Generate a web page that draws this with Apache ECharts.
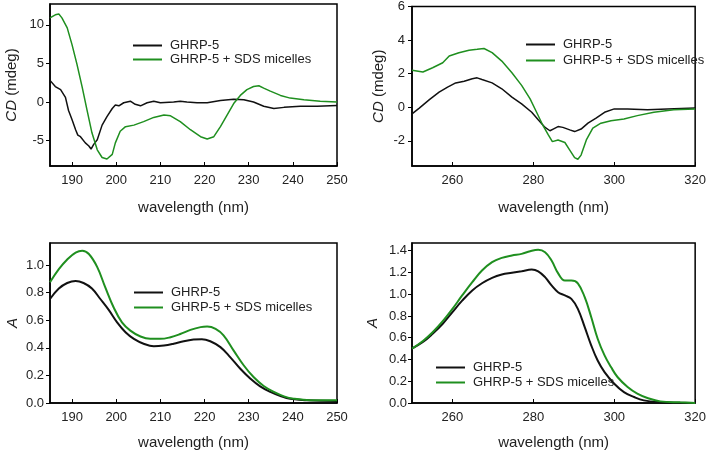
<!DOCTYPE html>
<html>
<head>
<meta charset="utf-8">
<script src="https://cdn.jsdelivr.net/npm/echarts@6/dist/echarts.min.js"></script>
<style>
  html, body { margin: 0; padding: 0; background: #fff; }
  #chart { width: 709px; height: 453px; }
</style>
</head>
<body>
<div id="chart"></div>
<script>
// 图例名称
const seriesNames = ['GHRP-5', 'GHRP-5 + SDS micelles'];

// CD 远紫外 (左上)
const cdFarBlackX = [185, 186.2, 187.4, 188.5, 189.2, 190, 190.8, 191.3, 191.9, 193, 193.8, 194.3, 194.9, 195.7, 196.8, 197.9, 199.1, 199.8, 200.6, 201.7, 203.2, 204.3, 205.5, 207, 208.5, 210, 213, 214.5, 216, 218.3, 220.6, 223.6, 226.6, 228.9, 231.1, 233.4, 235.7, 238, 241.7, 245.5, 250];
const cdFarBlackY = [2.8, 2.0, 1.6, 0.6, -1.1, -2.3, -3.6, -4.3, -4.5, -5.3, -5.7, -6.1, -5.5, -4.9, -3.0, -1.9, -0.85, -0.4, -0.5, -0.1, 0.1, -0.3, -0.5, -0.1, 0.1, -0.1, 0, 0.1, 0, -0.1, -0.1, 0.2, 0.35, 0.3, 0, -0.55, -0.85, -0.7, -0.55, -0.55, -0.45];
const cdFarGreenX = [185, 186.2, 187, 187.7, 188.9, 190, 191.1, 192.3, 193.4, 194.5, 195.7, 196.8, 197.9, 199.1, 199.8, 200.9, 202.1, 204, 206.2, 208.5, 210.8, 212.3, 214.5, 216.8, 219.1, 220.6, 222.1, 223.6, 225.1, 226.6, 228.1, 229.6, 231.1, 232.3, 233.4, 234.9, 237.2, 239.4, 242.5, 246.2, 250];
const cdFarGreenY = [10.9, 11.3, 11.4, 10.9, 9.6, 7.4, 4.9, 1.9, -1.1, -4.0, -6.2, -7.2, -7.4, -6.8, -5.3, -3.8, -3.2, -3.0, -2.55, -2.0, -1.7, -1.8, -2.55, -3.6, -4.5, -4.8, -4.5, -3.2, -1.7, -0.2, 0.85, 1.6, 2.0, 2.1, 1.8, 1.4, 0.85, 0.5, 0.3, 0.1, 0];

// CD 近紫外 (右上)
const cdNearBlackX = [250, 251.8, 254.3, 256.7, 258.8, 260.8, 262.9, 264.9, 266.1, 267.3, 269.8, 272.2, 274.7, 277.1, 279.6, 281.2, 282.9, 284.1, 284.9, 286.1, 287.3, 289, 290.2, 291.8, 293.5, 295.5, 297.6, 300, 303.3, 308.2, 313.1, 320];
const cdNearBlackY = [-0.4, -0.05, 0.45, 0.9, 1.2, 1.45, 1.55, 1.7, 1.75, 1.65, 1.45, 1.1, 0.6, 0.2, -0.3, -0.75, -1.2, -1.4, -1.3, -1.15, -1.2, -1.35, -1.45, -1.3, -0.95, -0.65, -0.3, -0.1, -0.1, -0.15, -0.1, -0.05];
const cdNearGreenX = [250, 252.7, 255.1, 257.6, 259.2, 261.6, 264.1, 266.1, 267.8, 269.8, 272.2, 274.7, 277.1, 279.2, 280.8, 282.4, 283.7, 284.7, 286.1, 287.8, 289, 290.2, 291, 291.8, 293.1, 294.7, 296.7, 299.2, 302.4, 305.7, 309.8, 314.7, 320];
const cdNearGreenY = [2.2, 2.1, 2.35, 2.65, 3.05, 3.25, 3.4, 3.45, 3.5, 3.25, 2.75, 2.05, 1.3, 0.5, -0.3, -1.1, -1.65, -2.05, -1.95, -2.1, -2.55, -3.0, -3.1, -2.85, -1.95, -1.25, -0.95, -0.8, -0.7, -0.5, -0.3, -0.15, -0.1];

// 吸收 远紫外 (左下)
const absFarBlackX = [185, 187, 188.9, 190.8, 192.6, 194.5, 196.4, 198.3, 200.2, 202.1, 204, 206.2, 208.5, 210.8, 213, 215.3, 217.5, 219.4, 221.3, 223.6, 225.8, 228.1, 230.4, 232.6, 234.9, 237.2, 239.4, 243.2, 250];
const absFarBlackY = [0.754, 0.83, 0.87, 0.885, 0.87, 0.83, 0.754, 0.675, 0.585, 0.513, 0.465, 0.43, 0.412, 0.417, 0.43, 0.448, 0.46, 0.463, 0.448, 0.405, 0.333, 0.248, 0.176, 0.12, 0.08, 0.05, 0.03, 0.02, 0.015];
const absFarGreenX = [185, 187, 188.9, 190.8, 192.3, 193.8, 195.7, 197.5, 199.4, 201.3, 203.2, 205.5, 207.7, 210, 212.3, 214.5, 216.8, 219.1, 220.6, 222.5, 224.3, 226.6, 228.9, 231.1, 233.4, 235.7, 238, 240.2, 244, 250];
const absFarGreenY = [0.875, 0.97, 1.04, 1.09, 1.104, 1.08, 0.985, 0.84, 0.694, 0.585, 0.525, 0.482, 0.465, 0.465, 0.477, 0.5, 0.53, 0.55, 0.554, 0.537, 0.49, 0.38, 0.272, 0.188, 0.123, 0.08, 0.048, 0.031, 0.02, 0.02];

// 吸收 近紫外 (右下)
const absNearBlackX = [250, 252.7, 255.1, 257.6, 260, 262.4, 264.9, 267.3, 269.8, 272.2, 274.7, 277.1, 279.6, 281.2, 282.9, 284.5, 286.1, 287.8, 289.4, 291, 292.7, 294.3, 295.9, 297.6, 300, 302.4, 304.9, 307.3, 310.6, 320];
const absNearBlackY = [0.5, 0.56, 0.636, 0.728, 0.835, 0.94, 1.034, 1.10, 1.15, 1.18, 1.196, 1.21, 1.226, 1.21, 1.156, 1.08, 1.018, 0.988, 0.957, 0.865, 0.697, 0.53, 0.39, 0.284, 0.177, 0.1, 0.055, 0.024, 0.009, 0];
const absNearGreenX = [250, 252.7, 255.1, 257.6, 260, 262.4, 264.9, 267.3, 269.8, 272.2, 274.7, 277.1, 279.2, 281.2, 282.9, 284.5, 286.1, 287.8, 289.4, 291, 292.7, 294.3, 295.9, 297.6, 299.2, 300.8, 303.3, 305.7, 308.2, 311.4, 316.3, 320];
const absNearGreenY = [0.5, 0.57, 0.65, 0.752, 0.865, 0.988, 1.11, 1.217, 1.294, 1.333, 1.355, 1.37, 1.394, 1.407, 1.385, 1.309, 1.193, 1.125, 1.125, 1.10, 0.972, 0.79, 0.59, 0.437, 0.33, 0.239, 0.147, 0.086, 0.046, 0.015, 0.006, 0];

// 刻度
const farTicks = [190, 200, 210, 220, 230, 240, 250];
const nearTicks = [260, 280, 300, 320];
const cdFarTicks = [-5, 0, 5, 10];
const cdNearTicks = [-2, 0, 2, 4, 6];
const absFarTicks = [0, 0.2, 0.4, 0.6, 0.8, 1.0];
const absNearTicks = [0, 0.2, 0.4, 0.6, 0.8, 1.0, 1.2, 1.4];

const kFont = '"Liberation Sans", Arial, sans-serif';
const kText = '#222';
const kBlack = '#111';
const kGreen = '#1f8f1f';

window.onload = function () {
  init();
};

function zip(xs, ys) {
  return xs.map((x, i) => [x, ys[i]]);
}

function xAxisOf(idx, min, max, ticks) {
  return {
    type: 'value',
    gridIndex: idx,
    min,
    max,
    name: 'wavelength (nm)',
    nameLocation: 'middle',
    nameGap: idx < 2 ? 34 : 32,
    nameTextStyle: { fontFamily: kFont, fontSize: 15, color: kText },
    axisLine: { show: true, onZero: false, lineStyle: { color: '#000', width: 1.5 } },
    axisTick: { show: true, inside: true, length: 4, customValues: ticks, lineStyle: { color: '#000', width: 1 } },
    axisLabel: { customValues: ticks, margin: 8, fontFamily: kFont, fontSize: 13, color: kText },
    splitLine: { show: false },
  };
}

function yAxisOf(idx, min, max, ticks, name, gap, margin, digits) {
  return {
    type: 'value',
    gridIndex: idx,
    min,
    max,
    name,
    nameLocation: 'middle',
    nameRotate: 90,
    nameGap: gap,
    nameTextStyle: {
      fontFamily: kFont,
      fontSize: 15,
      color: kText,
      rich: {
        i: { fontFamily: kFont, fontSize: 15, fontStyle: 'italic', color: kText },
      },
    },
    axisLine: { show: true, onZero: false, lineStyle: { color: '#000', width: 1.5 } },
    axisTick: { show: true, inside: false, length: 4, customValues: ticks, lineStyle: { color: '#000', width: 1 } },
    axisLabel: {
      customValues: ticks,
      margin: margin,
      fontFamily: kFont,
      fontSize: 13,
      color: kText,
      formatter: v => (digits ? v.toFixed(digits) : String(v)),
    },
    splitLine: { show: false },
  };
}

function lineSeries(name, idx, data, color, width, smooth) {
  return {
    name,
    type: 'line',
    xAxisIndex: idx,
    yAxisIndex: idx,
    data,
    showSymbol: false,
    smooth,
    lineStyle: { color, width },
    itemStyle: { color },
  };
}

function legendOf(left, top, gap) {
  return {
    data: seriesNames,
    orient: 'vertical',
    left,
    top,
    itemGap: gap,
    itemWidth: 29,
    itemHeight: 2,
    icon: 'rect',
    textStyle: { fontFamily: kFont, fontSize: 13, color: kText, lineHeight: 13, padding: [0, 0, 0, 3] },
  };
}

function init() {
  const chart = echarts.init(document.getElementById('chart'), null, { renderer: 'canvas' });

  const grids = [
    { left: 50, top: 4, width: 287, height: 162 },
    { left: 412, top: 6, width: 286, height: 160 },
    { left: 50, top: 243, width: 287, height: 160 },
    { left: 412, top: 243, width: 286, height: 160 },
  ].map(g => Object.assign({ show: true, borderColor: '#000', borderWidth: 1.5, backgroundColor: 'transparent' }, g));

  const option = {
    animation: false,
    backgroundColor: '#fff',
    grid: grids,
    legend: [
      legendOf(128, 34, 1),
      legendOf(521, 33, 3),
      legendOf(129, 281, 2),
      legendOf(431, 356, 2),
    ],
    xAxis: [
      xAxisOf(0, 185, 250, farTicks),
      xAxisOf(1, 250, 320, nearTicks),
      xAxisOf(2, 185, 250, farTicks),
      xAxisOf(3, 250, 320, nearTicks),
    ],
    yAxis: [
      yAxisOf(0, -8.3, 12.7, cdFarTicks, '{i|CD} (mdeg)', 31, 6, 0),
      yAxisOf(1, -3.5, 6, cdNearTicks, '{i|CD} (mdeg)', 26, 7, 0),
      yAxisOf(2, 0, 1.16, absFarTicks, '{i|A}', 30, 6, 1),
      yAxisOf(3, 0, 1.47, absNearTicks, '{i|A}', 32, 5, 1),
    ],
    series: [
      lineSeries(seriesNames[0], 0, zip(cdFarBlackX, cdFarBlackY), kBlack, 1.5, false),
      lineSeries(seriesNames[1], 0, zip(cdFarGreenX, cdFarGreenY), kGreen, 1.5, false),
      lineSeries(seriesNames[0], 1, zip(cdNearBlackX, cdNearBlackY), kBlack, 1.5, false),
      lineSeries(seriesNames[1], 1, zip(cdNearGreenX, cdNearGreenY), kGreen, 1.5, false),
      lineSeries(seriesNames[0], 2, zip(absFarBlackX, absFarBlackY), kBlack, 2, 0.4),
      lineSeries(seriesNames[1], 2, zip(absFarGreenX, absFarGreenY), kGreen, 2, 0.4),
      lineSeries(seriesNames[0], 3, zip(absNearBlackX, absNearBlackY), kBlack, 2, 0.4),
      lineSeries(seriesNames[1], 3, zip(absNearGreenX, absNearGreenY), kGreen, 2, 0.4),
    ],
  };

  chart.setOption(option);
}
</script>
</body>
</html>
